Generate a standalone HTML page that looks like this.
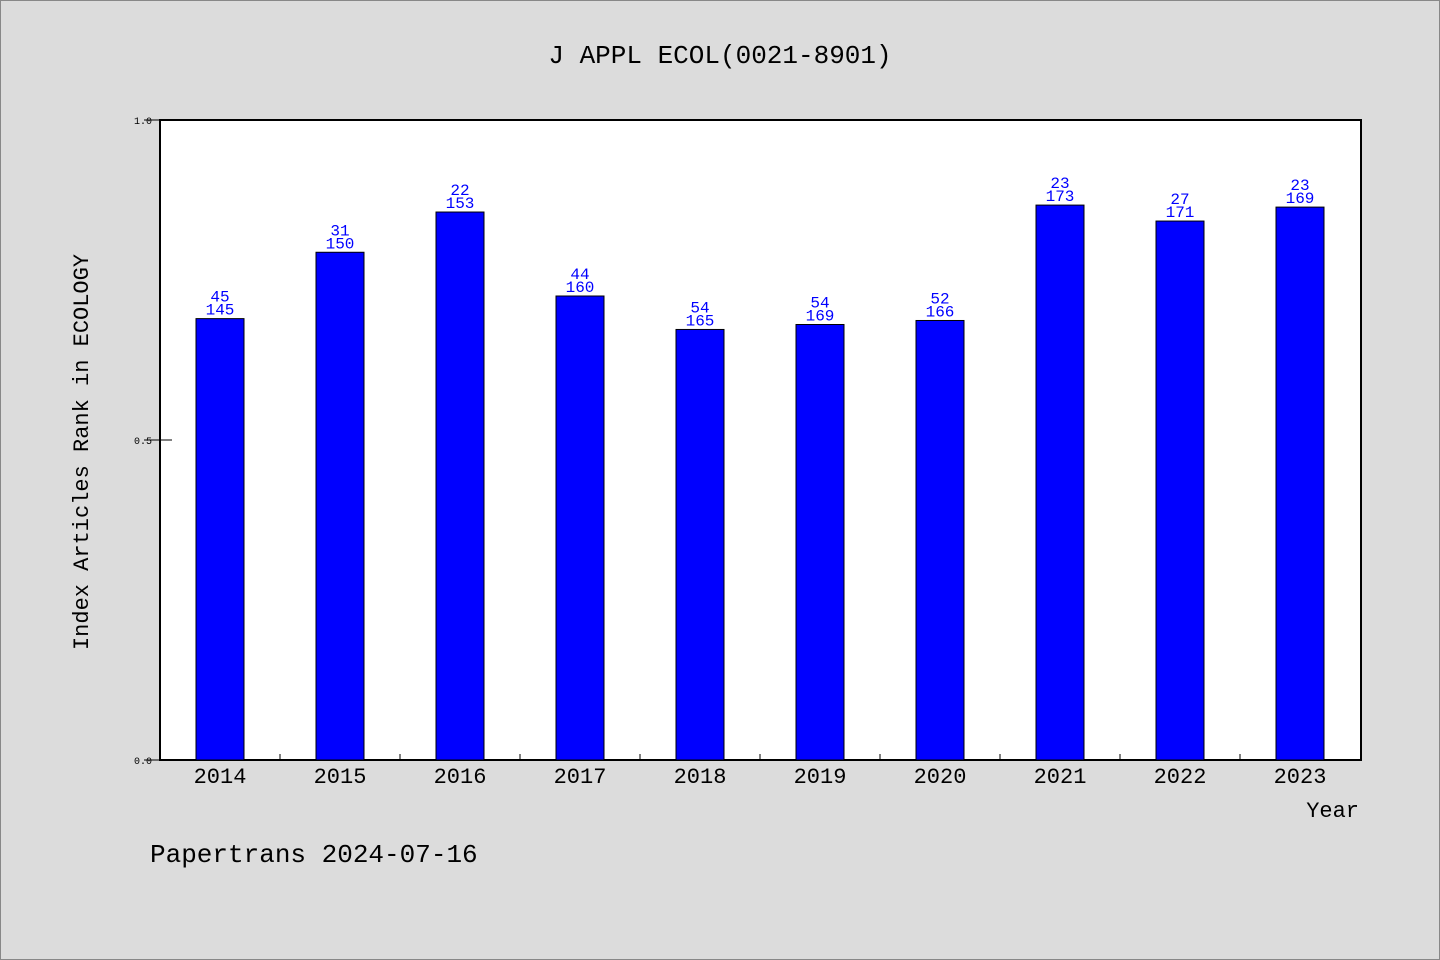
<!DOCTYPE html>
<html><head><meta charset="utf-8"><style>
html,body{margin:0;padding:0;background:#dcdcdc;}
svg{display:block;font-family:"WenQuanYi Zen Hei","Liberation Mono",monospace;}
</style></head><body>
<svg id="chart" width="1440" height="960" viewBox="0 0 1440 960">
<rect x="0.5" y="0.5" width="1439" height="959" fill="#dcdcdc" stroke="#888"/>
<text x="720" y="63" font-size="26" text-anchor="middle">J APPL ECOL(0021-8901)</text>
<rect x="160" y="120" width="1201" height="640" fill="#fff" stroke="#000" stroke-width="2"/>
<text transform="translate(88,452) rotate(-90)" font-size="22" text-anchor="middle">Index Articles Rank in ECOLOGY</text>
<text x="1359" y="817" font-size="22" text-anchor="end">Year</text>
<text x="150" y="862" font-size="26">Papertrans 2024-07-16</text>
<g id="marks"></g>
</svg>
<script>
const years = ["2014","2015","2016","2017","2018","2019","2020","2021","2022","2023"];
const ranks = [45,31,22,44,54,54,52,23,27,23];
const totals = [145,150,153,160,165,169,166,173,171,169];
const yTicks = [0,0.5,1.0];
const yTickLabels = ["0.0","0.5","1.0"];

const L=160,R=1361,T=120,B=760;
const band=(R-L-1)/years.length;
const xc=i=>L+band*(i+0.5);
const y=v=>B-(B-T)*v;
const ns="http://www.w3.org/2000/svg";
const g=document.getElementById('marks');
function mk(tag,attrs,text){const e=document.createElementNS(ns,tag);for(const k in attrs)e.setAttribute(k,attrs[k]);if(text!==undefined)e.textContent=text;g.appendChild(e);return e;}
yTicks.forEach((t,i)=>{
  const ln=mk('line',{x1:L-16,x2:L+12,y1:y(t),y2:y(t),stroke:'#000','stroke-width':1});
  
  
  const tx=mk('text',{x:L-8-0,y:y(t)+4,'font-size':10,'text-anchor':'end'},yTickLabels[i]);
  tx.setAttribute('x',L-8);
  
  
});
years.forEach((yr,i)=>{
  if(i>0){
    const tk=mk('line',{x1:L+band*i,x2:L+band*i,y1:B,y2:B-6,stroke:'#000','stroke-width':1});
    
    
  }
  const v=1-ranks[i]/totals[i];
  const top=y(v);
  const bar=mk('rect',{x:xc(i)-24,y:top,width:48,height:B-top,fill:'#0000ff',stroke:'#000','stroke-width':1});
  
  
  const l1=mk('text',{x:xc(i),y:top-17,'font-size':16,'text-anchor':'middle',fill:'#0000ff'},String(ranks[i]));
  
  
  const l2=mk('text',{x:xc(i),y:top-4,'font-size':16,'text-anchor':'middle',fill:'#0000ff'},String(totals[i]));
  
  
  const xl=mk('text',{x:xc(i),y:783,'font-size':22,'text-anchor':'middle'},yr);
  
  
});
</script>
</body></html>
